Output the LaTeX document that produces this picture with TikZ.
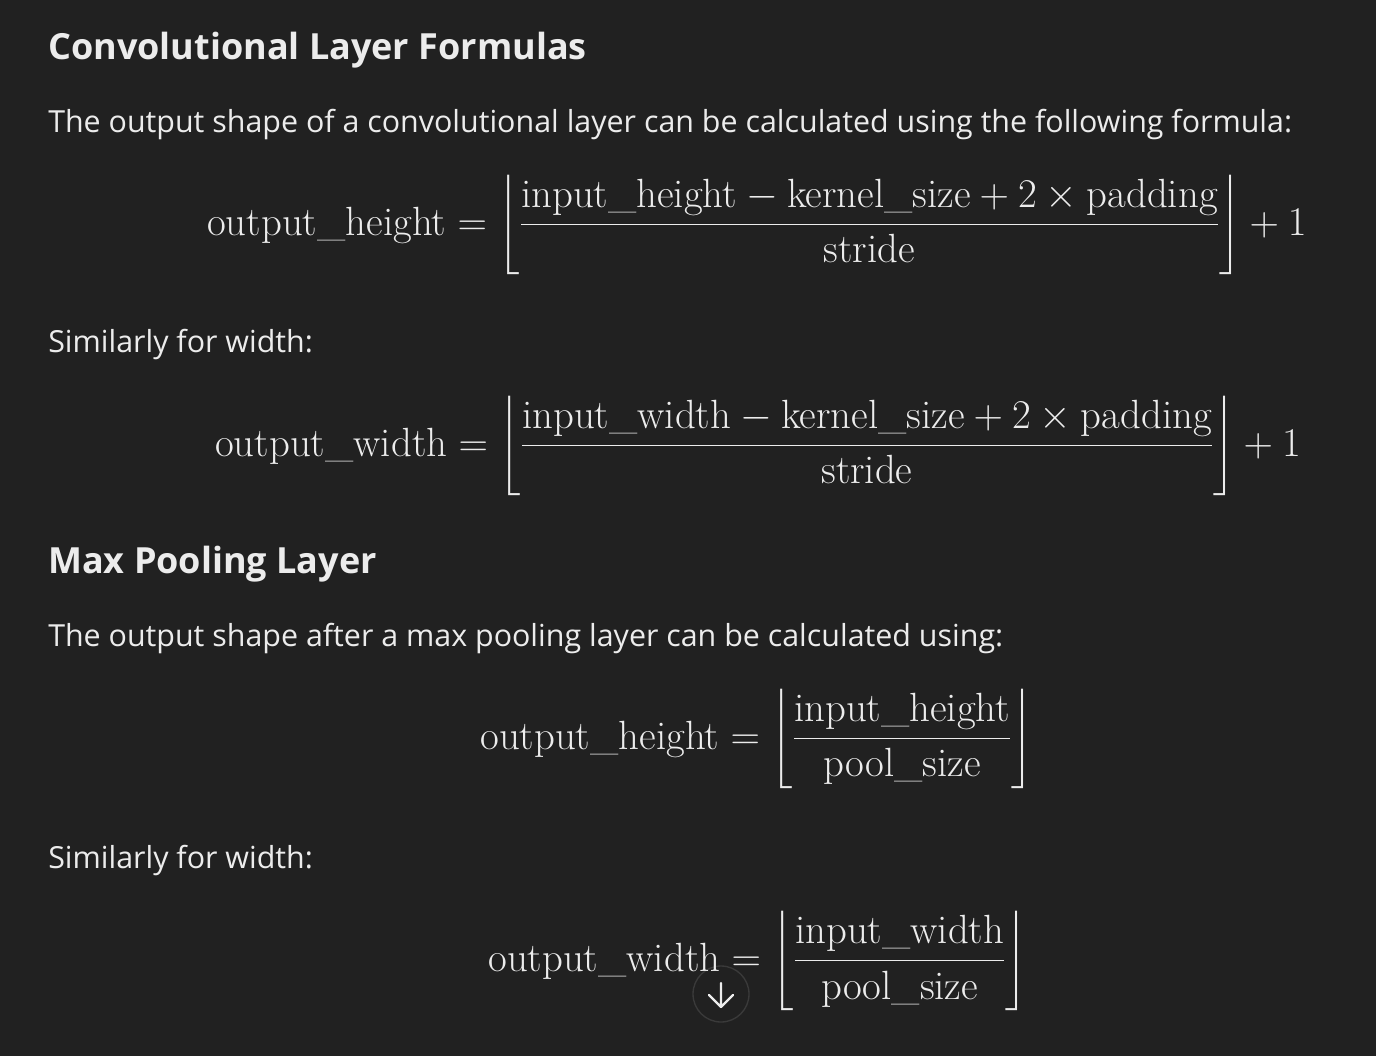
\documentclass[tikz,border=0pt]{standalone}
\usepackage{fix-cm}
\usepackage{amsmath}
\usepackage{fontspec}
\newfontfamily\uifont{Open Sans}
\definecolor{bg}{HTML}{212121}
\definecolor{fg}{HTML}{ECECEC}
\definecolor{ring}{HTML}{3A3A3A}
\tikzset{
  head/.style={anchor=base west, inner sep=0pt, text=fg, font=\uifont\fontsize{27}{32}\selectfont\bfseries},
  body/.style={anchor=base west, inner sep=0pt, text=fg, font=\uifont\fontsize{22.8}{27}\selectfont},
  eq/.style={anchor=base west, inner sep=0pt, text=fg, font=\fontsize{30.6}{36}\selectfont},
  btnring/.style={circle, draw=ring, line width=1pt, minimum size=56*0.75pt, inner sep=0pt},
  btnarrow/.style={fg, line width=1.7pt, line cap=round, line join=round},
}
\begin{document}
\begin{tikzpicture}[x=0.75pt,y=-0.75pt]
\fill[bg] (0,0) rectangle (1376,1056);
\useasboundingbox (0,0) rectangle (1376,1056);
\node[btnring] (btn) at (721,994) {};
\node[head] (h1) at (48,60) {Convolutional Layer Formulas};
\node[body] (t1) at (48,132) {The output shape of a convolutional layer can be calculated using the following formula:};
\node[eq] (e1) at (207,235) {$\displaystyle \text{output\_height} = \left\lfloor \frac{\text{input\_height} - \text{kernel\_size} + 2 \times \text{padding}}{\text{stride}} \right\rfloor + 1$};
\node[body] (t2) at (48,352) {Similarly for width:};
\node[eq] (e2) at (215,456) {$\displaystyle \text{output\_width} = \left\lfloor \frac{\text{input\_width} - \text{kernel\_size} + 2 \times \text{padding}}{\text{stride}} \right\rfloor + 1$};
\node[head] (h2) at (48,573) {Max Pooling Layer};
\node[body] (t3) at (48,646) {The output shape after a max pooling layer can be calculated using:};
\node[eq] (e3) at (480,749) {$\displaystyle \text{output\_height} = \left\lfloor \frac{\text{input\_height}}{\text{pool\_size}} \right\rfloor$};
\node[body] (t4) at (48,868) {Similarly for width:};
\node[eq] (e4) at (488,971) {$\displaystyle \text{output\_width} = \left\lfloor \frac{\text{input\_width}}{\text{pool\_size}} \right\rfloor$};
\begin{scope}[shift={(btn.center)}]
\draw[btnarrow] (0,-11) -- (0,13) (-12,1) -- (0,13) -- (12,1);
\end{scope}
\end{tikzpicture}
\end{document}
